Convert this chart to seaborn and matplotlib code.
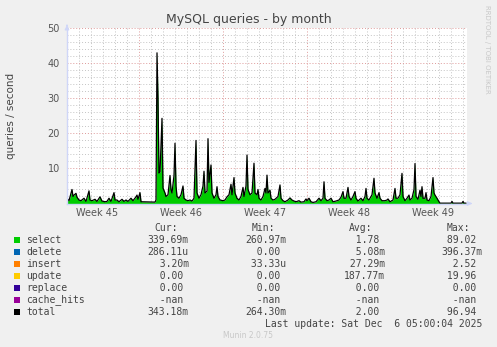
import numpy as np
import pandas as pd
import matplotlib
matplotlib.use("Agg")
import matplotlib.pyplot as plt
from matplotlib.patches import Rectangle
import seaborn as sns

# ---------------- data ----------------
# hours since 2025-11-04 00:00 (2 h per pixel column of the rrd graph)
hours_w45 = [0, 4, 10, 12, 14, 18, 20, 24, 28, 34, 38, 44, 46, 50, 56, 60, 66, 70, 76, 80, 84, 88, 94, 96,
             100, 104, 110, 114, 118, 122, 128, 132, 138, 140, 142, 146, 148, 176]
select_w45 = [1.5, 0.8, 4.0, 2.0, 2.4, 2.9, 1.8, 1.0, 0.8, 1.5, 0.6, 3.6, 1.0, 0.8, 1.2, 0.6, 1.9, 0.7, 0.5, 0.6,
              1.5, 0.6, 3.1, 1.0, 1.0, 0.5, 1.2, 0.6, 1.0, 0.6, 1.5, 0.8, 1.9, 2.4, 1.2, 3.1, 0.5, 0.4]
hours_w46 = [178, 180, 182, 184, 186, 190, 192, 196, 198, 202, 206, 208, 210, 214, 216, 218, 220, 224, 228, 232,
             234, 238, 242, 246, 250, 254, 258, 260, 264, 268, 272, 274, 276, 280, 282, 284, 288, 290, 294, 298,
             300, 302, 306, 312]
select_w46 = [1.0, 43.0, 30.0, 8.7, 9.0, 24.3, 4.4, 3.0, 2.0, 2.5, 8.0, 4.0, 3.0, 8.0, 17.2, 5.0, 2.0, 1.5, 2.5,
              5.0, 1.5, 1.0, 0.8, 1.0, 0.7, 1.5, 18.0, 3.0, 1.5, 2.5, 5.0, 9.2, 3.0, 3.5, 18.5, 6.0, 11.0, 3.0,
              1.5, 2.5, 4.8, 2.0, 1.0, 0.8]
hours_w47 = [316, 320, 324, 328, 330, 334, 336, 340, 344, 348, 352, 354, 358, 360, 362, 366, 370, 374, 376, 380,
             382, 384, 388, 392, 396, 398, 400, 402, 406, 408, 412, 416, 422, 426, 428, 432, 436, 442, 446, 450,
             454, 458, 464, 468, 474, 478, 480]
select_w47 = [1.0, 1.9, 2.5, 5.5, 2.5, 7.4, 3.0, 1.5, 1.0, 2.0, 4.6, 2.0, 5.0, 13.8, 4.0, 2.5, 3.0, 11.5, 3.0, 2.5,
              4.0, 1.5, 1.0, 2.0, 4.3, 3.0, 8.1, 3.0, 3.8, 1.5, 1.0, 1.2, 2.0, 5.3, 1.5, 0.8, 0.5, 1.0, 1.6, 1.0,
              0.7, 0.5, 0.8, 0.4, 0.5, 1.3, 0.8]
hours_w48 = [484, 488, 492, 498, 504, 508, 512, 514, 516, 520, 524, 528, 532, 538, 544, 548, 552, 554, 558, 562,
             564, 568, 572, 576, 578, 582, 588, 592, 596, 598, 600, 604, 610, 614, 616, 620, 624, 626, 630, 636,
             640, 642, 646]
select_w48 = [1.5, 0.5, 0.3, 0.5, 1.5, 0.8, 1.5, 6.2, 1.5, 0.8, 1.0, 1.5, 0.5, 0.7, 1.0, 1.8, 3.4, 1.5, 1.5, 4.6,
              2.0, 1.0, 2.0, 3.4, 1.5, 0.7, 1.5, 0.8, 2.0, 4.3, 1.5, 1.0, 2.5, 7.2, 3.0, 1.5, 3.1, 1.5, 0.8, 0.8,
              1.0, 1.3, 0.5]
hours_w49 = [652, 656, 658, 662, 666, 670, 672, 676, 680, 684, 686, 690, 694, 696, 698, 702, 706, 708, 710, 712,
             716, 718, 720, 724, 728, 732, 734, 736, 740, 744, 746, 766, 768, 770, 772, 790, 792, 794, 798]
select_w49 = [1.0, 4.3, 1.5, 1.5, 2.5, 8.6, 2.0, 0.8, 1.5, 2.4, 1.0, 1.5, 4.0, 11.4, 2.0, 1.2, 3.8, 2.0, 4.8, 1.5,
              1.5, 3.1, 1.0, 0.8, 2.0, 7.4, 3.0, 2.4, 1.5, 0.5, 0.1, 0.1, 0.1, 0.6, 0.1, 0.1, 0.6, 0.1, 0.1]

week_labels = ["Week 45", "Week 46", "Week 47", "Week 48", "Week 49"]
week_centers_h = [60, 228, 396, 564, 732]
week_starts_h = [144, 312, 480, 648]
y_ticks = [10, 20, 30, 40, 50]

series_names = ["select", "delete", "insert", "update", "replace", "cache_hits", "total"]
series_colors = ["#00CC00", "#0066B3", "#FF8000", "#FFCC00", "#330099", "#990099", "#000000"]
cur_vals = ["339.69m", "286.11u", "  3.20m", "  0.00 ", "  0.00 ", "  -nan ", "343.18m"]
min_vals = ["260.97m", "  0.00 ", " 33.33u", "  0.00 ", "  0.00 ", "  -nan ", "264.30m"]
avg_vals = ["  1.78 ", "  5.08m", " 27.29m", "187.77m", "  0.00 ", "  -nan ", "  2.00 "]
max_vals = [" 89.02 ", "396.37m", "  2.52 ", " 19.96 ", "  0.00 ", "  -nan ", " 96.94 "]

# ---------------- figure ----------------
W, H = 497, 347
sns.set_theme(style="white")
plt.rcParams["font.family"] = ["DejaVu Sans"]
fig = plt.figure(figsize=(W / 100, H / 100), dpi=100, facecolor="#F0F0F0")

L, R, T, B = 67, 467, 28.3, 203.5
ax = fig.add_axes([L / W, 1 - B / H, (R - L) / W, (B - T) / H])
ax.set_facecolor("white")

df = pd.DataFrame({
    "hours": hours_w45 + hours_w46 + hours_w47 + hours_w48 + hours_w49,
    "select": select_w45 + select_w46 + select_w47 + select_w48 + select_w49,
})

ax.fill_between(df["hours"], 0, df["select"], color="#00CC00", lw=0, zorder=3)
sns.lineplot(data=df, x="hours", y="select", ax=ax, color="black", lw=0.9, zorder=4)

ax.set_xlim(0, 800)
ax.set_ylim(0, 50)

# grid
dot = (0, (1, 2))
for h in range(0, 800, 24):
    if h in week_starts_h:
        continue
    ax.axvline(h, color="#C4C4C4", lw=0.7, ls=dot, zorder=1)
for h in week_starts_h:
    ax.axvline(h, color="#DE9A9A", lw=0.7, ls=dot, zorder=1)
for v in range(2, 51, 2):
    c = "#DE9A9A" if v % 10 == 0 else "#C4C4C4"
    ax.axhline(v, color=c, lw=0.7, ls=dot, zorder=1)

for s in ["top", "right"]:
    ax.spines[s].set_visible(False)
for s in ["left", "bottom"]:
    ax.spines[s].set_color("#CFD6F8")
    ax.spines[s].set_linewidth(1.0)
    ax.spines[s].set_zorder(5)

ax.set_xticks(week_centers_h)
ax.set_xticklabels(week_labels)
ax.set_yticks(y_ticks)
ax.set_yticklabels([str(v) for v in y_ticks])
ax.tick_params(axis="both", length=0, labelsize=7, labelcolor="#555555")
ax.tick_params(axis="x", pad=3.5)
ax.tick_params(axis="y", pad=5)
ax.set_xlabel("")
ax.set_ylabel("")

# arrows on axes
ax.annotate("", xy=(0, 1.035), xytext=(0, 1.0), xycoords="axes fraction",
            arrowprops=dict(arrowstyle="-|>", color="#CFD6F8", lw=1, mutation_scale=6))
ax.annotate("", xy=(1.02, 0), xytext=(1.0, 0), xycoords="axes fraction",
            arrowprops=dict(arrowstyle="-|>", color="#CFD6F8", lw=1, mutation_scale=6))

def fx(x):
    return x / W

def fy(y):
    return 1 - y / H

fig.text(fx(248.5), fy(19), "MySQL queries - by month", ha="center", va="center",
         fontsize=9, color="#444444")
fig.text(fx(11), fy(116), "queries / second", ha="center", va="center", rotation=90,
         fontsize=7.5, color="#444444")
fig.text(fx(487), fy(5), "RRDTOOL / TOBI OETIKER", ha="center", va="top", rotation=270,
         fontsize=5, color="#C8C8C8")

mono = "DejaVu Sans Mono"
lc = "#444444"
fs = 7
fig.text(fx(154), fy(227.7), "Cur:", family=mono, fontsize=fs, color=lc, ha="left", va="center")
fig.text(fx(251.7), fy(227.7), "Min:", family=mono, fontsize=fs, color=lc, ha="left", va="center")
fig.text(fx(349.3), fy(227.7), "Avg:", family=mono, fontsize=fs, color=lc, ha="left", va="center")
fig.text(fx(446.7), fy(227.7), "Max:", family=mono, fontsize=fs, color=lc, ha="left", va="center")

for i, name in enumerate(series_names):
    y = 239.7 + 12 * i
    fig.patches.append(Rectangle((fx(14.3), fy(y + 3)), 6 / W, 6 / H, transform=fig.transFigure,
                                 facecolor=series_colors[i], edgecolor="none", figure=fig))
    fig.text(fx(26.3), fy(y), name, family=mono, fontsize=fs, color=lc, ha="left", va="center")
    fig.text(fx(147.7), fy(y), cur_vals[i], family=mono, fontsize=fs, color=lc, ha="left", va="center")
    fig.text(fx(245), fy(y), min_vals[i], family=mono, fontsize=fs, color=lc, ha="left", va="center")
    fig.text(fx(344), fy(y), avg_vals[i], family=mono, fontsize=fs, color=lc, ha="left", va="center")
    fig.text(fx(441), fy(y), max_vals[i], family=mono, fontsize=fs, color=lc, ha="left", va="center")

fig.text(fx(482.3), fy(324), "Last update: Sat Dec  6 05:00:04 2025", family=mono, fontsize=fs,
         color=lc, ha="right", va="center")
fig.text(fx(248), fy(336), "Munin 2.0.75", fontsize=5.5, color="#C8C8C8", ha="center", va="center")

fig.savefig("out.png", dpi=100, facecolor=fig.get_facecolor())
